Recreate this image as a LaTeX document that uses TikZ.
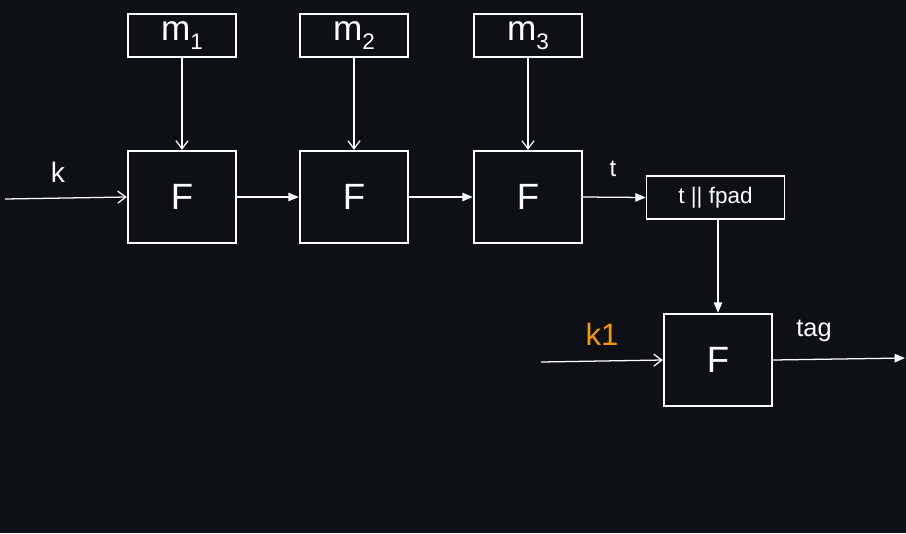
\documentclass[tikz,border=0pt]{standalone}
\usepackage{fontspec}
\setmainfont{Liberation Sans}
\usetikzlibrary{arrows.meta}
\definecolor{bgdark}{HTML}{0D1014}
\definecolor{keyorange}{HTML}{F59A00}
\newcommand{\msub}[1]{m{\fontsize{16}{16}\selectfont\raisebox{-6pt}{#1}}}

\begin{document}
\begin{tikzpicture}[x=0.025cm,y=-0.025cm]
\tikzstyle{fbox}=[draw=white,text=white,line width=1.7pt,minimum width=2.7cm,minimum height=2.3cm,font=\fontsize{26}{26}\selectfont]
\tikzstyle{mbox}=[draw=white,text=white,line width=1.7pt,minimum width=2.7cm,minimum height=1.08cm,font=\fontsize{25}{25}\selectfont]
\tikzstyle{lbl}=[text=white,font=\fontsize{20}{20}\selectfont]
\tikzstyle{thinarr}=[draw=white,line width=0.9pt,-{Straight Barb[length=2mm,width=3mm]}]
\tikzstyle{solidarr}=[draw=white,line width=0.9pt,-{Triangle[length=2.6mm,width=2.1mm]}]
\fill[bgdark] (0,0) rectangle (906,533);

\node[mbox] at (182,35.5) (m1) {\msub{1}};
\node[mbox] at (354,35.5) (m2) {\msub{2}};
\node[mbox] at (528,35.5) (m3) {\msub{3}};
\node[fbox] at (182,197) (f1) {F};
\node[fbox] at (354,197) (f2) {F};
\node[fbox] at (528,197) (f3) {F};
\node[mbox,line width=1.1pt,minimum width=3.45cm,font=\fontsize{16}{16}\selectfont] at (715.5,197.5) (pad) {t || fpad};
\node[fbox] at (718,360) (f4) {F};

\node[lbl] at (58,172) (klbl) {k};
\node[lbl,font=\fontsize{17}{17}\selectfont] at (613,169) (tlbl) {t};
\node[lbl,text=keyorange,font=\fontsize{22}{22}\selectfont] at (602,334) (k1lbl) {k1};
\node[lbl,font=\fontsize{18}{18}\selectfont] at (814,331) (taglbl) {tag};

\coordinate (kin) at (5,199);
\coordinate (k1in) at (541,362);
\coordinate (tagout) at (905,358);

\draw[thinarr] (kin) -- (f1.west);
\draw[thinarr] (m1) -- (f1);
\draw[thinarr] (m2) -- (f2);
\draw[thinarr] (m3) -- (f3);
\draw[solidarr] (f1) -- (f2);
\draw[solidarr] (f2) -- (f3);
\draw[solidarr] (f3.east) -- (pad.west);
\draw[solidarr] (pad.south -| f4) -- (f4);
\draw[thinarr] (k1in) -- (f4.west);
\draw[solidarr] (f4.east) -- (tagout);
\end{tikzpicture}
\end{document}
